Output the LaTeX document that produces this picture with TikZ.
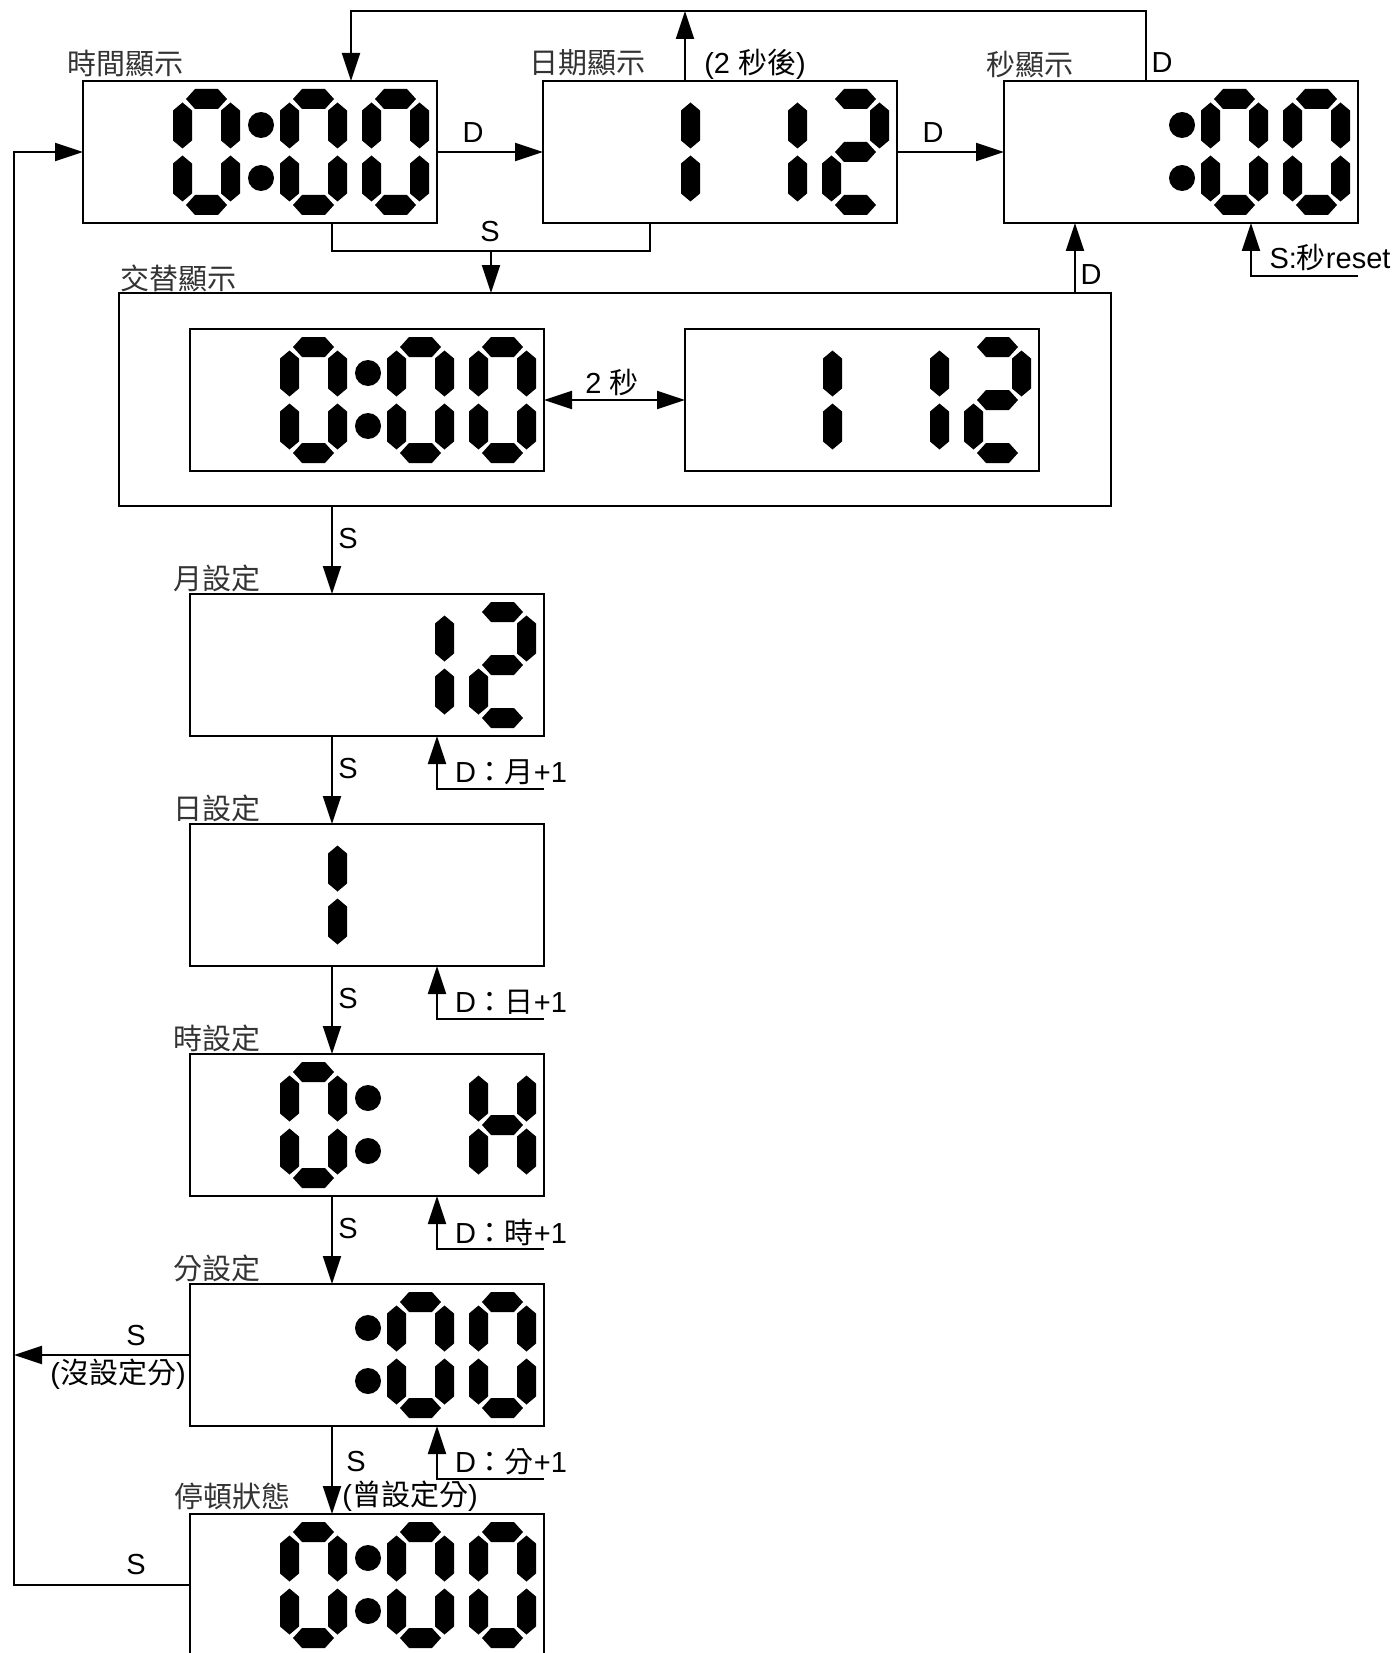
\documentclass[tikz,border=0pt]{standalone}
\usepackage{fontspec}
\setmainfont{Liberation Sans}
\newfontfamily\zhfont{Noto Sans CJK TC}
\usetikzlibrary{arrows.meta,calc,positioning}

\tikzset{
  lcdbox/.style={draw, line width=1pt, anchor=north west, inner sep=0pt, outer sep=0pt,
    minimum width=177pt, minimum height=71pt},
  wire/.style={line width=1pt},
  arr/.style={line width=1pt, -{Triangle[length=14pt,width=9pt]}},
  arrtwo/.style={line width=1pt, {Triangle[length=14pt,width=9pt]}-{Triangle[length=14pt,width=9pt]}},
  lbl/.style={inner sep=0pt, font=\fontsize{14.5}{17}\selectfont},
  zhlbl/.style={inner sep=0pt, text=black!80, font=\fontsize{14.5}{17}\zhfont},
  % seven segment pieces (units: px, y down)
  hseg/.pic={\fill (13,0) -- (22,-10) -- (45,-10) -- (54,0) -- (45,10) -- (22,10) -- cycle;},
  vseg/.pic={\fill (0,0) -- (9.5,8) -- (9.5,38) -- (0,46) -- (-9.5,38) -- (-9.5,8) -- cycle;},
  dig0/.pic={\pic at (0,10) {hseg}; \pic at (0,116) {hseg};
    \foreach \x/\y in {9.5/13.5, 9.5/66.5, 57.5/13.5, 57.5/66.5} \pic at (\x,\y) {vseg};},
  dig1/.pic={\foreach \y in {13.5, 66.5} \pic at (57.5,\y) {vseg};},
  dig2/.pic={\foreach \y in {10, 63, 116} \pic at (0,\y) {hseg};
    \pic at (57.5,13.5) {vseg}; \pic at (9.5,66.5) {vseg};},
  digH/.pic={\pic at (0,63) {hseg};
    \foreach \x/\y in {9.5/13.5, 9.5/66.5, 57.5/13.5, 57.5/66.5} \pic at (\x,\y) {vseg};},
}

% colon of a display box
\newcommand\lcdcolon[1]{\fill ($(#1.north west)+(178,44)$) circle (6.5pt)
  ($(#1.north west)+(178,97)$) circle (6.5pt);}
% 0:00
\newcommand\lcdzero[1]{%
  \pic at ($(#1.north west)+(90,8)$) {dig0};
  \lcdcolon{#1}
  \pic at ($(#1.north west)+(197,8)$) {dig0};
  \pic at ($(#1.north west)+(279,8)$) {dig0};}
% 1 12
\newcommand\lcddate[1]{%
  \pic at ($(#1.north west)+(90,8)$) {dig1};
  \pic at ($(#1.north west)+(197,8)$) {dig1};
  \pic at ($(#1.north west)+(279,8)$) {dig2};}
% :00
\newcommand\lcdsec[1]{%
  \lcdcolon{#1}
  \pic at ($(#1.north west)+(197,8)$) {dig0};
  \pic at ($(#1.north west)+(279,8)$) {dig0};}

\begin{document}
\begin{tikzpicture}[x=0.5pt,y=-0.5pt]
  \useasboundingbox (0,0) rectangle (1397,1653);
  \clip (0,0) rectangle (1397,1653);

  % display boxes
  \node[lcdbox] (time) at (83,81) {};
  \node[lcdbox] (date) at (543,81) {};
  \node[lcdbox] (sec) at (1004,81) {};
  \node[lcdbox, minimum width=496pt, minimum height=106.5pt] (alt) at (119,293) {};
  \node[lcdbox] (altL) at (190,329) {};
  \node[lcdbox] (altR) at (685,329) {};
  \node[lcdbox] (mon) at (190,594) {};
  \node[lcdbox] (day) at (190,824) {};
  \node[lcdbox] (hour) at (190,1054) {};
  \node[lcdbox] (min) at (190,1284) {};
  \node[lcdbox] (hold) at (190,1514) {};

  % digits
  \lcdzero{time}
  \lcddate{date}
  \lcdsec{sec}
  \lcdzero{altL}
  \lcddate{altR}
  \pic at ($(mon.north west)+(197,8)$) {dig1};
  \pic at ($(mon.north west)+(279,8)$) {dig2};
  \pic at ($(day.north west)+(90,8)$) {dig1};
  \pic at ($(hour.north west)+(90,8)$) {dig0};
  \lcdcolon{hour}
  \pic at ($(hour.north west)+(279,8)$) {digH};
  \lcdsec{min}
  \lcdzero{hold}

  % box titles
  \node[zhlbl] at (125,63) {時間顯示};
  \node[zhlbl] at (587,63) {日期顯示};
  \node[zhlbl] at (1030,65) {秒顯示};
  \node[zhlbl] at (178,278) {交替顯示};
  \node[zhlbl] at ($(hold.north west)+(42,-18)$) {停頓狀態};

  % connectors
  \coordinate (lx) at (14,0);
  \coordinate (cx) at (332,0);
  \coordinate (dl) at (437,0);
  \coordinate (tl) at (351,11);
  \coordinate (tr) at (1146,11);
  \coordinate (up) at (685,11);
  \coordinate (sm) at (491,251);
  \coordinate (sr) at (650,251);
  \coordinate (dd) at (1075,0);
  \coordinate (rs) at (1251,276);

  \draw[arr] (tr |- sec.north) -- (tr) -- (tl) -- (tl |- time.north);
  \node[lbl] at (1162,63) {D};
  \draw[arr] (up |- date.north) -- (up);
  \node[lbl] at (755,64) {(2 {\zhfont 秒後})};
  \draw[arr] (time.east) -- (date.west);
  \node[lbl] at (473,133) {D};
  \draw[arr] (date.east) -- (sec.west);
  \node[lbl] at (933,133) {D};
  \draw[wire] (cx |- time.south) |- (sr) -- (sr |- date.south);
  \draw[arr] (sm) -- (sm |- alt.north);
  \node[lbl] at (490,232) {S};
  \draw[arrtwo] (altL) -- (altR);
  \node[lbl] at (612,382) {2 {\zhfont 秒}};
  \draw[arr] (dd |- alt.north) -- (dd |- sec.south);
  \node[lbl] at (1091,275) {D};
  \draw[arr] (sec.east |- rs) -- (rs) -- (rs |- sec.south);
  \node[lbl] at (1330,257) {S:{\zhfont 秒}reset};

  % setting chain
  \foreach \a/\b/\c in {alt/mon/月, mon/day/日, day/hour/時, hour/min/分} {
    \draw[arr] (cx |- \a.south) -- (cx |- \b.north);
    \node[lbl] at ($(cx |- \a.south)+(16,33)$) {S};
    \node[zhlbl] at ($(\b.north west)+(27,-16)$) {\c{}設定};
    \draw[arr] ($(\b.south east)+(0,53)$) -| (dl |- \b.south);
    \node[lbl] at ($(dl |- \b.south)+(74,36)$) {D{\zhfont ：\c}+1};
  }
  \draw[arr] (cx |- min.south) -- (cx |- hold.north);
  \node[lbl] at (356,1461) {S};
  \node[lbl] at (410,1496) {({\zhfont 曾設定分})};

  % return to time display
  \draw[arr] (min.west) -- (lx |- min.west);
  \node[lbl] at (136,1335) {S};
  \node[lbl] at (118,1374) {({\zhfont 沒設定分})};
  \draw[arr] (hold.west) -| (lx |- time.west) -- (time.west);
  \node[lbl] at (136,1564) {S};
\end{tikzpicture}
\end{document}
